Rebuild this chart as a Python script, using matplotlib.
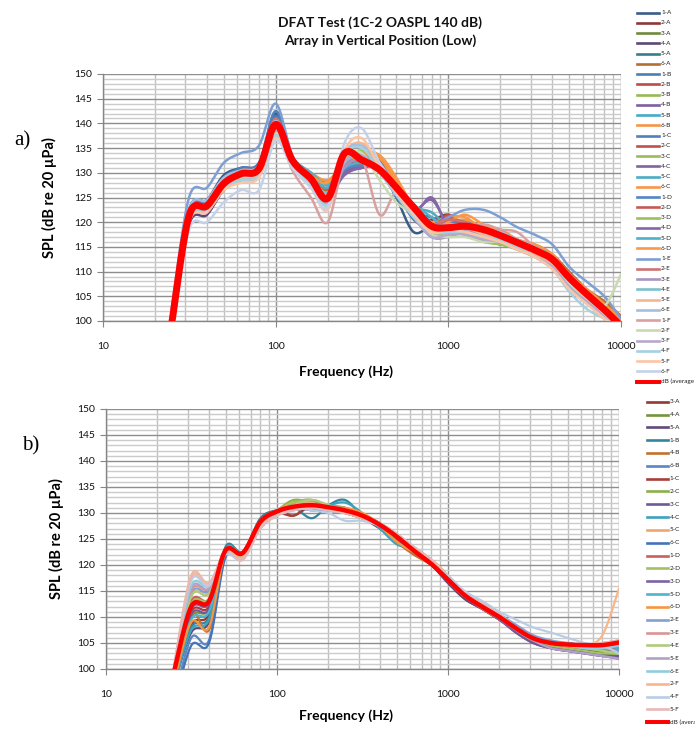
import numpy as np
import matplotlib
matplotlib.use("Agg")
import matplotlib.pyplot as plt
from matplotlib.lines import Line2D
from matplotlib.ticker import MultipleLocator, LogLocator, FixedLocator, FuncFormatter, NullFormatter

plt.rcParams['font.family'] = ['Lato', 'DejaVu Sans']

# ---------------- data ----------------
FREQ = [25, 31.5, 40, 50, 63, 80, 100, 125, 160, 200, 250, 315, 400, 500, 630, 800,
        1000, 1250, 1600, 2000, 2500, 3150, 4000, 5000, 6300, 8000, 10000]

TITLE = "DFAT Test (1C-2 OASPL 140 dB)\nArray in Vertical Position (Low)"
YLABEL = "SPL (dB re 20 \u00b5Pa)"
XLABEL = "Frequency (Hz)"
XTICKS = [10, 100, 1000, 10000]
YTICKS = [100, 105, 110, 115, 120, 125, 130, 135, 140, 145, 150]

# ---- chart a) ----
A_1A = [100.5, 122.5, 124.5, 129.5, 131.0, 132.0, 142.0, 133.0, 128.0, 124.5, 131.0, 131.5, 131.5, 125.0, 118.0, 119.5, 120.5, 119.5, 118.0, 117.0, 116.5, 114.5, 113.0, 109.5, 106.0, 103.5, 100.0]
A_2A = [100.0, 121.8, 123.8, 128.5, 130.5, 131.5, 141.0, 132.5, 128.5, 125.0, 132.0, 132.5, 131.0, 126.0, 121.0, 120.5, 121.5, 119.0, 117.0, 117.5, 116.0, 114.0, 112.0, 108.5, 105.0, 102.5, 99.0]
A_3A = [99.8, 121.0, 123.0, 127.5, 129.5, 130.0, 139.0, 132.0, 129.0, 125.5, 130.5, 131.5, 132.0, 126.5, 122.0, 118.5, 120.5, 118.0, 117.5, 116.5, 115.0, 114.0, 112.0, 108.0, 105.0, 102.0, 99.0]
A_4A = [98.5, 119.5, 121.5, 126.5, 128.5, 130.0, 138.5, 132.0, 128.5, 126.0, 130.0, 131.0, 131.5, 127.5, 122.5, 119.0, 119.5, 118.5, 117.5, 116.5, 115.5, 114.0, 112.0, 108.0, 104.5, 101.5, 98.5]
A_5A = [100.0, 121.5, 123.5, 128.0, 130.0, 130.5, 140.0, 133.0, 130.0, 128.0, 131.0, 132.0, 131.0, 126.0, 123.5, 119.5, 119.0, 118.5, 117.0, 117.0, 115.5, 114.5, 112.5, 108.5, 105.5, 102.5, 99.5]
A_6A = [99.5, 121.0, 123.0, 127.5, 129.0, 129.5, 139.5, 132.5, 129.5, 126.5, 131.5, 132.5, 132.5, 128.0, 123.0, 119.0, 119.5, 119.0, 118.0, 117.5, 116.0, 115.5, 113.5, 110.0, 106.5, 104.0, 101.0]
A_1B = [100.0, 122.0, 124.0, 128.5, 130.5, 131.5, 141.5, 133.0, 129.0, 125.0, 130.5, 132.0, 132.0, 126.5, 120.5, 119.0, 120.0, 119.5, 118.5, 117.5, 116.5, 115.0, 113.0, 109.0, 106.0, 103.0, 100.0]
A_2B = [99.8, 121.5, 123.5, 128.0, 130.0, 131.0, 140.5, 132.5, 128.5, 125.5, 132.5, 133.0, 131.5, 126.0, 121.5, 119.0, 119.5, 117.5, 117.0, 117.0, 116.0, 114.5, 112.5, 108.5, 105.5, 102.5, 99.5]
A_3B = [99.5, 121.0, 123.0, 127.5, 129.5, 130.5, 139.0, 132.5, 129.0, 126.0, 132.0, 133.0, 130.5, 127.0, 122.5, 118.0, 118.5, 118.5, 116.5, 115.5, 115.0, 113.5, 111.5, 108.0, 105.0, 102.0, 99.0]
A_4B = [99.0, 120.5, 122.5, 127.0, 129.0, 130.0, 138.5, 132.0, 128.5, 125.5, 130.0, 131.0, 132.0, 127.5, 122.0, 121.0, 119.0, 118.0, 118.0, 117.0, 115.5, 114.0, 112.0, 108.5, 105.0, 102.0, 99.0]
A_5B = [100.0, 121.5, 123.5, 128.0, 129.5, 130.5, 139.5, 133.0, 130.0, 127.5, 131.0, 132.0, 131.5, 126.5, 123.5, 120.0, 119.0, 118.0, 117.5, 116.5, 115.5, 114.0, 112.0, 108.0, 105.0, 102.0, 99.0]
A_6B = [99.5, 121.0, 123.0, 127.5, 129.0, 130.0, 139.5, 133.0, 130.0, 128.5, 131.5, 133.5, 133.0, 127.5, 122.0, 119.5, 120.0, 120.5, 119.0, 118.5, 116.5, 115.0, 113.0, 109.5, 106.0, 103.0, 100.0]
A_1C = [100.5, 122.5, 124.5, 129.0, 131.0, 132.0, 142.5, 133.0, 128.5, 124.5, 130.5, 131.0, 131.5, 125.0, 121.5, 119.0, 120.5, 120.0, 119.0, 118.0, 116.5, 115.0, 113.0, 109.5, 106.0, 103.0, 99.5]
A_2C = [100.0, 122.0, 124.0, 128.5, 130.5, 131.5, 141.0, 132.5, 128.0, 125.0, 131.5, 132.0, 131.0, 126.0, 121.0, 118.5, 121.5, 119.0, 116.5, 117.0, 115.5, 114.0, 112.0, 108.0, 105.0, 102.0, 99.0]
A_3C = [99.5, 121.0, 123.0, 127.5, 129.5, 130.0, 138.5, 132.0, 128.5, 125.5, 132.5, 134.0, 131.0, 126.5, 122.0, 118.0, 118.5, 117.5, 116.5, 116.0, 114.5, 113.5, 111.5, 107.5, 104.5, 101.5, 98.5]
A_4C = [99.0, 120.5, 122.5, 127.0, 129.0, 130.0, 138.5, 132.0, 128.0, 125.0, 130.0, 131.5, 131.5, 127.0, 122.5, 124.5, 119.5, 118.5, 117.5, 116.5, 115.0, 113.5, 111.5, 108.0, 104.5, 101.5, 98.5]
A_5C = [100.0, 121.5, 123.5, 128.0, 130.0, 130.5, 139.5, 133.0, 129.5, 127.0, 131.5, 132.5, 131.0, 126.0, 123.0, 122.0, 119.0, 118.5, 117.0, 116.0, 115.0, 113.5, 111.5, 107.5, 104.5, 101.5, 98.5]
A_6C = [99.5, 121.0, 123.0, 127.5, 129.0, 130.0, 139.0, 133.0, 130.0, 128.5, 132.0, 134.0, 133.5, 128.0, 122.5, 120.0, 121.0, 121.0, 118.5, 118.0, 116.5, 115.0, 113.0, 109.0, 106.0, 103.0, 100.0]
A_1D = [100.0, 122.0, 124.0, 128.5, 130.5, 131.5, 141.0, 133.0, 129.0, 125.5, 130.5, 131.5, 131.0, 126.0, 122.5, 119.0, 120.0, 119.5, 118.0, 117.5, 116.0, 115.0, 113.0, 109.0, 105.5, 102.5, 99.5]
A_2D = [99.8, 121.5, 123.5, 128.0, 130.0, 131.0, 140.5, 132.5, 128.0, 125.0, 131.0, 132.0, 131.5, 126.0, 121.5, 119.5, 121.0, 119.0, 117.0, 115.5, 116.0, 114.5, 112.5, 108.5, 105.0, 102.0, 99.0]
A_3D = [99.5, 121.0, 123.0, 127.5, 129.0, 130.0, 138.5, 132.0, 128.5, 125.5, 132.0, 134.5, 131.5, 126.5, 122.0, 117.5, 118.0, 117.5, 116.0, 115.5, 114.5, 113.0, 111.0, 107.0, 104.0, 101.0, 98.0]
A_4D = [99.0, 120.5, 122.5, 127.0, 129.0, 129.5, 138.0, 131.5, 128.0, 125.0, 129.5, 131.0, 131.0, 126.5, 122.0, 125.0, 119.0, 118.0, 117.0, 116.0, 115.0, 113.5, 111.0, 107.5, 104.0, 101.0, 98.0]
A_5D = [100.0, 121.5, 123.5, 128.0, 130.0, 130.5, 139.5, 133.0, 130.0, 127.5, 131.0, 132.0, 130.5, 125.5, 123.5, 121.0, 118.5, 118.0, 116.5, 116.0, 115.0, 113.5, 111.5, 107.5, 104.5, 101.5, 98.5]
A_6D = [99.5, 121.0, 123.0, 127.5, 129.0, 130.0, 139.0, 133.0, 129.5, 128.0, 132.5, 133.5, 133.5, 129.0, 123.0, 119.0, 120.0, 121.5, 119.5, 118.0, 116.5, 115.5, 113.5, 109.5, 106.5, 103.5, 100.5]
A_1E = [102.5, 125.0, 127.0, 132.0, 134.0, 135.5, 144.0, 133.5, 128.5, 124.0, 131.5, 132.5, 131.0, 126.0, 122.5, 119.5, 121.0, 122.5, 122.5, 121.0, 119.0, 117.5, 115.5, 111.0, 108.0, 105.0, 100.5]
A_2E = [99.5, 121.5, 123.5, 128.5, 130.5, 131.5, 141.0, 132.5, 128.0, 124.5, 131.5, 132.5, 130.5, 126.0, 121.5, 119.5, 120.5, 120.0, 118.5, 117.5, 116.0, 114.5, 112.5, 108.5, 105.0, 102.0, 99.0]
A_3E = [99.0, 120.5, 122.5, 127.0, 129.0, 130.0, 138.5, 132.0, 128.0, 124.5, 131.0, 133.0, 130.5, 126.0, 121.0, 117.0, 117.0, 118.0, 117.5, 116.5, 115.0, 113.5, 111.5, 107.5, 104.5, 101.5, 98.5]
A_4E = [100.0, 121.5, 123.5, 128.0, 129.5, 130.5, 139.0, 132.5, 129.0, 126.0, 132.0, 133.5, 130.5, 126.0, 122.5, 119.0, 118.5, 118.0, 117.0, 116.5, 115.0, 113.5, 111.0, 107.0, 104.0, 100.5, 98.0]
A_5E = [99.5, 121.0, 123.0, 127.5, 129.0, 130.0, 138.5, 132.5, 129.0, 125.5, 134.0, 136.0, 131.5, 126.5, 121.5, 118.5, 119.5, 119.0, 117.5, 116.5, 115.0, 113.5, 111.5, 107.5, 104.5, 101.5, 98.5]
A_6E = [100.5, 122.5, 124.5, 129.0, 130.5, 131.5, 140.5, 132.5, 128.0, 124.0, 134.0, 135.5, 132.0, 127.0, 122.0, 119.0, 119.5, 119.5, 118.5, 118.0, 116.5, 115.0, 113.0, 109.5, 106.0, 102.5, 99.5]
A_1F = [99.5, 121.0, 123.0, 127.5, 129.0, 130.0, 138.5, 130.5, 125.0, 120.0, 132.5, 133.0, 121.5, 126.0, 122.0, 118.0, 118.0, 118.0, 119.5, 118.5, 118.0, 115.0, 112.5, 108.5, 105.0, 102.0, 99.0]
A_2F = [99.5, 121.0, 123.0, 127.5, 129.0, 130.0, 138.0, 132.0, 128.0, 124.5, 133.0, 134.0, 128.5, 124.0, 121.5, 117.5, 117.0, 117.0, 116.0, 116.0, 114.5, 113.0, 111.0, 107.5, 104.5, 103.0, 109.5]
A_3F = [99.0, 120.0, 122.0, 126.5, 128.5, 129.5, 137.5, 131.5, 127.5, 124.0, 132.0, 133.5, 130.0, 125.5, 121.0, 117.0, 117.5, 117.5, 116.5, 116.0, 114.5, 113.0, 111.0, 107.0, 104.0, 101.0, 98.0]
A_4F = [99.5, 120.5, 122.5, 127.0, 128.5, 129.5, 137.5, 131.5, 127.5, 123.5, 133.5, 135.0, 130.5, 125.5, 121.0, 118.0, 118.0, 118.0, 117.0, 116.5, 115.0, 113.0, 110.5, 106.0, 102.5, 100.5, 99.0]
A_5F = [99.0, 120.0, 122.0, 126.5, 128.0, 129.0, 137.0, 131.0, 127.0, 122.5, 134.5, 137.0, 131.0, 126.0, 121.5, 118.0, 118.5, 118.0, 117.0, 116.0, 114.5, 113.0, 110.5, 106.5, 103.5, 100.5, 98.0]
A_6F = [98.5, 118.5, 120.0, 124.0, 126.5, 126.5, 136.5, 131.0, 127.0, 123.0, 136.0, 139.0, 132.0, 127.0, 122.0, 119.0, 119.0, 119.0, 118.0, 117.0, 115.5, 114.0, 112.0, 108.0, 105.0, 101.5, 98.5]
A_AVG = [99.5, 121.3, 123.3, 127.8, 129.8, 130.8, 139.8, 132.5, 128.8, 124.8, 133.9, 132.6, 130.6, 127.0, 123.0, 119.2, 118.9, 119.2, 118.5, 117.3, 115.9, 114.4, 112.5, 108.8, 105.5, 102.3, 99.0]

A_NAMES = ["1-A", "2-A", "3-A", "4-A", "5-A", "6-A", "1-B", "2-B", "3-B", "4-B", "5-B", "6-B",
           "1-C", "2-C", "3-C", "4-C", "5-C", "6-C", "1-D", "2-D", "3-D", "4-D", "5-D", "6-D",
           "1-E", "2-E", "3-E", "4-E", "5-E", "6-E", "1-F", "2-F", "3-F", "4-F", "5-F", "6-F",
           "dB (average"]
A_SERIES = [A_1A, A_2A, A_3A, A_4A, A_5A, A_6A, A_1B, A_2B, A_3B, A_4B, A_5B, A_6B,
            A_1C, A_2C, A_3C, A_4C, A_5C, A_6C, A_1D, A_2D, A_3D, A_4D, A_5D, A_6D,
            A_1E, A_2E, A_3E, A_4E, A_5E, A_6E, A_1F, A_2F, A_3F, A_4F, A_5F, A_6F, A_AVG]
A_COLORS = ["#385D8A", "#8C3836", "#71893F", "#5C4776", "#357D91", "#B66D31",
            "#4A7EBB", "#BE4B48", "#98B954", "#7D60A0", "#46AAC5", "#F69546",
            "#4F81BD", "#C0504D", "#9BBB59", "#8064A2", "#4BACC6", "#F79646",
            "#5585C2", "#C45A57", "#9CC05A", "#8467A8", "#4DB1CC", "#F99848",
            "#7E9FD3", "#CD7371", "#A596C0", "#7FBFCF", "#F9B58C", "#A5BEDF",
            "#D8A0A0", "#C9DAB0", "#B5A9CE", "#A5D0E0", "#FBC4A5", "#C5D1E8",
            "#FF0000"]

# ---- chart b) ----
B_3A = [98.0, 108.5, 110.5, 122.5, 122.0, 128.5, 130.5, 129.5, 131.5, 131.0, 130.0, 129.0, 127.0, 125.0, 122.5, 120.0, 117.0, 113.5, 111.5, 109.5, 107.0, 105.0, 104.0, 103.5, 103.5, 103.5, 103.5]
B_4A = [98.5, 110.0, 111.5, 123.0, 122.5, 128.5, 130.0, 132.0, 132.5, 131.0, 130.5, 129.5, 127.5, 125.5, 123.0, 120.5, 117.0, 114.0, 112.0, 110.0, 108.0, 106.0, 105.0, 104.0, 103.5, 103.0, 102.5]
B_5A = [97.0, 107.0, 109.0, 122.0, 121.5, 128.0, 130.0, 131.5, 131.5, 131.0, 130.5, 129.5, 128.0, 125.0, 122.5, 120.0, 116.5, 113.5, 111.5, 109.5, 107.5, 105.5, 104.5, 104.0, 103.5, 103.0, 102.0]
B_1B = [97.5, 108.0, 110.0, 123.5, 122.5, 129.0, 130.5, 131.0, 129.0, 131.5, 132.5, 129.5, 127.5, 124.5, 122.5, 120.0, 117.0, 114.0, 112.0, 110.0, 108.0, 106.0, 105.0, 105.0, 104.5, 104.5, 104.5]
B_4B = [95.0, 110.5, 107.5, 122.0, 122.0, 128.0, 130.0, 131.5, 131.5, 131.0, 131.0, 129.5, 128.0, 124.5, 122.0, 120.0, 117.5, 114.0, 112.0, 110.0, 108.0, 106.0, 105.0, 104.5, 104.5, 104.5, 105.0]
B_6B = [94.0, 106.0, 105.5, 122.0, 121.5, 128.0, 130.0, 131.0, 131.0, 130.5, 130.5, 129.5, 127.5, 125.5, 123.0, 120.5, 117.0, 114.0, 112.0, 110.0, 107.5, 105.5, 104.5, 104.0, 104.0, 104.0, 104.0]
B_1C = [98.5, 111.0, 112.0, 123.0, 122.5, 128.5, 130.0, 129.5, 131.5, 130.5, 130.0, 129.0, 127.5, 125.0, 122.5, 120.0, 117.0, 114.0, 111.5, 109.5, 107.5, 105.5, 104.5, 104.0, 104.0, 104.0, 104.0]
B_2C = [99.0, 112.0, 113.0, 123.0, 122.5, 128.5, 130.5, 132.5, 132.0, 131.5, 131.0, 129.5, 128.0, 125.5, 123.0, 120.5, 117.5, 114.5, 112.0, 110.0, 108.0, 106.0, 105.0, 104.5, 104.0, 103.5, 103.0]
B_3C = [98.5, 110.5, 111.5, 122.5, 122.0, 128.0, 130.0, 131.5, 132.0, 131.0, 130.0, 129.0, 127.5, 125.5, 123.0, 120.5, 117.0, 114.0, 111.5, 109.5, 107.0, 105.0, 104.0, 103.5, 103.0, 102.5, 102.5]
B_4C = [97.0, 107.5, 109.5, 123.0, 122.5, 128.5, 130.0, 131.0, 131.0, 131.5, 132.0, 130.0, 127.0, 124.0, 123.0, 120.5, 117.0, 114.0, 112.0, 110.0, 108.0, 106.0, 105.0, 104.5, 104.5, 104.5, 104.5]
B_5C = [99.5, 114.0, 114.5, 122.5, 122.0, 128.5, 130.5, 132.0, 132.0, 131.0, 130.5, 130.0, 128.0, 126.0, 123.5, 121.0, 117.5, 114.5, 112.5, 110.5, 108.0, 106.0, 105.0, 104.5, 104.5, 104.5, 105.0]
B_6C = [93.0, 104.5, 105.0, 121.5, 121.5, 128.0, 130.0, 131.0, 130.5, 130.5, 130.5, 129.5, 128.0, 125.5, 123.0, 120.5, 117.0, 114.0, 112.0, 110.0, 108.0, 106.0, 105.0, 104.5, 104.5, 104.5, 104.5]
B_1D = [99.0, 113.0, 113.5, 123.0, 122.5, 128.5, 130.5, 131.5, 131.5, 131.0, 130.5, 129.5, 128.0, 125.5, 123.0, 120.5, 117.0, 114.0, 111.5, 109.5, 107.5, 105.5, 104.5, 104.0, 104.0, 104.0, 104.0]
B_2D = [99.0, 112.5, 113.5, 122.5, 122.0, 128.0, 130.0, 132.0, 132.5, 131.5, 130.5, 129.5, 127.5, 125.5, 123.0, 120.5, 117.0, 114.0, 112.0, 110.0, 107.5, 105.5, 104.5, 104.0, 103.5, 103.0, 103.0]
B_3D = [98.5, 111.5, 112.5, 122.5, 122.0, 128.0, 130.0, 131.5, 131.5, 131.0, 130.5, 129.5, 127.5, 125.0, 123.0, 120.5, 117.0, 114.0, 112.0, 109.5, 107.5, 105.5, 104.0, 103.5, 103.0, 102.5, 102.0]
B_5D = [98.0, 109.5, 111.0, 123.0, 122.5, 128.5, 130.0, 131.0, 131.5, 131.0, 131.0, 129.5, 127.5, 124.5, 122.5, 120.5, 117.0, 114.0, 112.0, 110.0, 108.0, 106.0, 105.0, 104.5, 104.5, 104.5, 104.0]
B_6D = [97.5, 109.0, 108.0, 122.5, 122.0, 128.0, 130.0, 131.5, 131.5, 131.0, 131.0, 130.0, 127.5, 124.5, 122.5, 121.0, 118.0, 114.5, 112.0, 110.0, 108.0, 106.0, 105.0, 104.5, 104.5, 104.5, 105.0]
B_2E = [99.5, 114.5, 115.0, 122.5, 122.0, 128.0, 130.0, 131.0, 131.0, 130.5, 130.0, 129.0, 127.5, 125.5, 123.0, 120.5, 117.0, 114.5, 112.5, 110.5, 108.5, 106.5, 105.5, 105.0, 104.5, 104.0, 103.5]
B_3E = [100.0, 115.0, 115.5, 123.0, 122.0, 128.0, 130.0, 131.0, 131.0, 130.5, 130.0, 129.5, 128.0, 126.0, 123.0, 120.5, 117.5, 114.5, 112.5, 110.0, 108.0, 106.0, 105.0, 104.5, 104.5, 105.0, 105.5]
B_4E = [99.5, 114.0, 114.5, 122.5, 122.0, 128.0, 130.0, 131.5, 132.5, 131.5, 130.5, 129.5, 127.5, 125.5, 123.0, 120.5, 117.0, 114.0, 112.0, 110.0, 108.0, 106.0, 105.0, 104.5, 104.0, 103.5, 103.0]
B_5E = [100.0, 115.5, 115.5, 122.5, 121.5, 127.5, 130.0, 131.0, 131.0, 130.5, 130.0, 129.0, 127.5, 125.5, 123.0, 120.5, 117.0, 114.0, 112.0, 110.0, 107.5, 105.5, 104.0, 103.5, 103.0, 102.5, 102.0]
B_6E = [100.0, 116.0, 116.0, 122.5, 121.5, 127.5, 129.5, 130.5, 131.0, 130.5, 130.0, 129.0, 127.5, 125.5, 123.0, 120.5, 117.5, 114.5, 112.5, 110.5, 108.0, 106.0, 105.0, 104.5, 104.0, 104.0, 104.5]
B_2F = [100.5, 118.0, 116.5, 122.5, 121.5, 127.5, 129.5, 131.0, 131.5, 131.0, 130.0, 129.0, 127.5, 125.5, 123.0, 120.5, 117.5, 114.5, 112.5, 110.0, 108.0, 106.0, 105.0, 104.5, 104.5, 106.5, 115.5]
B_4F = [100.5, 117.0, 116.0, 122.0, 121.0, 127.0, 129.5, 131.0, 130.5, 130.0, 128.5, 128.5, 127.5, 126.0, 123.5, 121.0, 118.0, 115.0, 113.0, 111.0, 109.5, 108.0, 107.0, 106.0, 105.0, 104.5, 103.0]
B_5F = [100.5, 117.5, 116.5, 122.5, 121.0, 127.0, 129.5, 130.5, 131.0, 130.5, 130.0, 129.5, 128.0, 126.0, 123.5, 121.0, 117.5, 114.5, 112.5, 110.5, 108.0, 106.0, 105.0, 104.5, 104.5, 105.0, 105.5]
B_AVG = [99.5, 112.0, 113.0, 122.8, 122.3, 128.3, 130.3, 131.2, 131.5, 131.1, 130.5, 129.5, 127.7, 125.5, 122.8, 120.2, 117.2, 114.2, 111.9, 110.0, 107.8, 105.9, 105.0, 104.7, 104.6, 104.6, 105.1]

B_NAMES = ["3-A", "4-A", "5-A", "1-B", "4-B", "6-B", "1-C", "2-C", "3-C", "4-C", "5-C", "6-C",
           "1-D", "2-D", "3-D", "5-D", "6-D", "2-E", "3-E", "4-E", "5-E", "6-E", "2-F", "4-F", "5-F",
           "dB (avera"]
B_SERIES = [B_3A, B_4A, B_5A, B_1B, B_4B, B_6B, B_1C, B_2C, B_3C, B_4C, B_5C, B_6C,
            B_1D, B_2D, B_3D, B_5D, B_6D, B_2E, B_3E, B_4E, B_5E, B_6E, B_2F, B_4F, B_5F, B_AVG]
B_COLORS = ["#953735", "#77933C", "#604A7B", "#31859C", "#C0722F", "#5A86C5",
            "#A83E3C", "#8CB04A", "#70589A", "#3DA2BE", "#F2A56C", "#4474B8",
            "#C9605D", "#A3C25F", "#7B62A6", "#4EB3CE", "#F7963F", "#859FD0",
            "#D99694", "#AFCB7F", "#B2A1C7", "#93CDDD", "#FAB68A", "#B9CDE5", "#E6B9B8",
            "#FF0000"]


def smooth(xv, yv, n=16):
    """Excel-like smoothed line: cubic Bezier through the points (log-x space)."""
    lx = np.log10(np.asarray(xv, float))
    y = np.asarray(yv, float)
    P = np.column_stack([lx, y])
    out = []
    m = len(P)
    t = np.linspace(0, 1, n, endpoint=False)[:, None]
    for i in range(m - 1):
        p0 = P[i - 1] if i > 0 else P[i]
        p1, p2 = P[i], P[i + 1]
        p3 = P[i + 2] if i + 2 < m else P[i + 1]
        c1 = p1 + (p2 - p0) / 6.0
        c2 = p2 - (p3 - p1) / 6.0
        seg = ((1 - t) ** 3) * p1 + 3 * ((1 - t) ** 2) * t * c1 + 3 * (1 - t) * t ** 2 * c2 + t ** 3 * p2
        out.append(seg)
    out.append(P[-1][None, :])
    S = np.vstack(out)
    return 10 ** S[:, 0], S[:, 1]


W, H = 695, 730
fig = plt.figure(figsize=(W / 100, H / 100), dpi=100)
fig.patch.set_facecolor("white")


def px_rect(l, t, r, b):
    return [l / W, 1 - b / H, (r - l) / W, (b - t) / H]


def style_axes(ax):
    ax.set_xscale("log")
    ax.set_xlim(10, 10000)
    ax.set_ylim(100, 150)
    ax.xaxis.set_major_locator(FixedLocator(XTICKS))
    ax.xaxis.set_major_formatter(FuncFormatter(lambda v, p: "%d" % round(v)))
    ax.xaxis.set_minor_locator(LogLocator(base=10, subs=np.arange(2, 10)))
    ax.xaxis.set_minor_formatter(NullFormatter())
    ax.yaxis.set_major_locator(FixedLocator(YTICKS))
    ax.yaxis.set_minor_locator(MultipleLocator(1))
    ax.set_axisbelow(True)
    ax.grid(True, which="minor", axis="y", color="#cbcbcb", lw=1.0)
    ax.grid(True, which="minor", axis="x", color="#c0c0c0", lw=1.0)
    ax.grid(True, which="major", axis="both", color="#8e8e8e", lw=1.0)
    for s in ("top", "right"):
        ax.spines[s].set_visible(False)
    for s in ("left", "bottom"):
        ax.spines[s].set_color("#868686")
        ax.spines[s].set_linewidth(1.0)
    ax.tick_params(axis="both", which="minor", length=0)
    ax.tick_params(axis="y", which="major", length=4, color="#868686", labelsize=7.5, pad=4, labelcolor="#111111")
    ax.tick_params(axis="x", which="major", length=4, color="#868686", labelsize=7.5, pad=11, labelcolor="#111111")


ax1 = fig.add_axes(px_rect(103, 74, 621, 321))
ax2 = fig.add_axes(px_rect(106, 409, 619, 669))
style_axes(ax1)
style_axes(ax2)

for ax, series, colors, wl, wavg in ((ax1, A_SERIES, A_COLORS, 1.8, 5.0), (ax2, B_SERIES, B_COLORS, 1.6, 3.2)):
    for i, (vals, col) in enumerate(zip(series, colors)):
        xs, ys = smooth(FREQ, vals)
        last = i == len(series) - 1
        ax.plot(xs, ys, color=col, lw=wavg if last else wl, solid_capstyle="round", zorder=3 + i * 0.01)

# labels
for ax, lx, ly, yx, yfs in ((ax1, (346 - 103) / 518, (321 - 365) / 247, (57 - 103) / 518, 10.5),
                            (ax2, (346 - 106) / 513, (669 - 709) / 260, (64 - 106) / 513, 10.5)):
    ax.set_xlabel(XLABEL, fontsize=10, fontweight="bold")
    ax.xaxis.set_label_coords(lx, ly)
    ax.set_ylabel(YLABEL, fontsize=yfs, fontweight="bold")
    ax.yaxis.set_label_coords(yx, 0.5)

fig.text(380 / W, 1 - 32 / H, TITLE, ha="center", va="center", fontsize=10, fontweight="bold",
         linespacing=1.5, color="#111111")

fig.text(22 / W, 1 - 141 / H, "a)", ha="center", va="center", fontsize=15,
         family=["Liberation Serif", "DejaVu Serif"])
fig.text(31 / W, 1 - 446 / H, "b)", ha="center", va="center", fontsize=15,
         family=["Liberation Serif", "DejaVu Serif"])


# legends (right side)
def draw_legend(names, colors, x0, x1, xt, y0, y1, fs, lw):
    n = len(names)
    for i, (nm, col) in enumerate(zip(names, colors)):
        y = y0 + (y1 - y0) * i / (n - 1)
        fy = 1 - y / H
        w = lw * 1.5 if i == n - 1 else lw
        fig.add_artist(Line2D([x0 / W, x1 / W], [fy, fy], transform=fig.transFigure, color=col, lw=w))
        fig.text(xt / W, fy, nm, ha="left", va="center", fontsize=fs, color="#222222")


draw_legend(A_NAMES, A_COLORS, 637, 659, 661, 12.7, 381.7, 4.6, 1.9)
draw_legend(B_NAMES, B_COLORS, 647, 668, 670, 401.7, 722.3, 4.6, 1.9)

fig.savefig("out.png", dpi=100, facecolor="white")
